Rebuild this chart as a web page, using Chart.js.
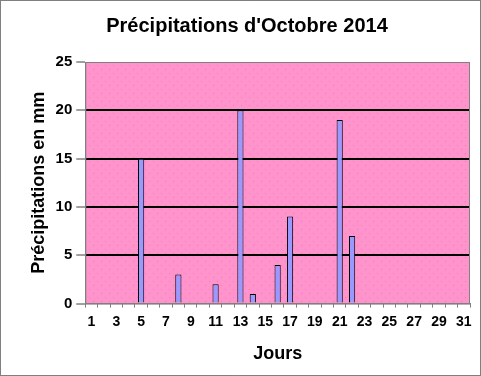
<!DOCTYPE html>
<html>
<head>
<meta charset="utf-8">
<script src="https://cdn.jsdelivr.net/npm/chart.js@4/dist/chart.umd.min.js"></script>
<style>
  html, body { margin: 0; padding: 0; background: #fff; }
  #wrap { width: 481px; height: 376px; }
</style>
</head>
<body>
<div id="wrap"><canvas id="myChart" width="481" height="376"></canvas></div>
<script>
// jours du mois et pluie en mm
const jours = [];
for (let j = 1; j <= 31; j++) jours.push(String(j));
const pluie = [0, 0, 0, 0, 15, 0, 0, 3, 0, 0, 2, 0, 20, 1, 0, 4, 9, 0, 0, 0, 19, 7, 0, 0, 0, 0, 0, 0, 0, 0, 0];
const yTicks = [0, 5, 10, 15, 20, 25];

// fond rose pointillé
function makePattern(ctx) {
    const c = document.createElement('canvas');
    c.width = 8; c.height = 8;
    const p = c.getContext('2d');
    p.fillStyle = '#ff94cc';
    p.fillRect(0, 0, 8, 8);
    p.fillStyle = '#f47ab8';
    p.fillRect(1, 1, 1, 1);
    p.fillRect(5, 5, 1, 1);
    return ctx.createPattern(c, 'repeat');
}

const fondPlugin = {
    id: 'fond',
    beforeDraw(chart) {
        const { ctx, chartArea: a } = chart;
        ctx.save();
        ctx.fillStyle = makePattern(ctx);
        ctx.fillRect(a.left, a.top, a.right - a.left, a.bottom - a.top);
        ctx.restore();
    },
    afterDraw(chart) {
        const { ctx, chartArea: a } = chart;
        ctx.save();
        ctx.strokeStyle = '#808080';
        ctx.lineWidth = 1;
        ctx.strokeRect(a.left + 0.5, a.top + 0.5, a.right - a.left - 1, a.bottom - a.top);
        // cadre pointillé autour
        ctx.strokeStyle = '#000';
        ctx.setLineDash([1, 1]);
        ctx.strokeRect(0.5, 0.5, chart.width - 1, chart.height - 1);
        ctx.restore();
    }
};

let ctx = document.getElementById('myChart').getContext('2d');
let myChart = new Chart(ctx, {
    type: 'bar',
    data: {
        labels: jours,
        datasets: [{
            data: pluie,
            backgroundColor: '#9999ff',
            borderColor: '#000',
            borderWidth: 1,
            barPercentage: 0.5,
            categoryPercentage: 1
        }]
    },
    options: {
        responsive: false,
        animation: false,
        layout: { padding: { left: 24, right: 11, top: 8, bottom: 7 } },
        plugins: {
            legend: { display: false },
            tooltip: { enabled: false },
            title: {
                display: true,
                text: "Précipitations d'Octobre 2014",
                color: '#000',
                font: { family: 'Arial, Liberation Sans', size: 20, weight: 'bold' },
                padding: { top: 6, bottom: 24 }
            }
        },
        scales: {
            x: {
                grid: {
                    drawOnChartArea: false,
                    drawTicks: true,
                    tickLength: 4,
                    tickColor: '#808080',
                    offset: true
                },
                border: { color: '#808080' },
                ticks: {
                    autoSkip: false,
                    maxRotation: 0,
                    color: '#000',
                    padding: 6,
                    font: { family: 'Arial, Liberation Sans', size: 14, weight: 'bold' },
                    callback: function (v, i) { return i % 2 === 0 ? jours[i] : ''; }
                },
                title: {
                    display: true,
                    text: 'Jours',
                    color: '#000',
                    font: { family: 'Arial, Liberation Sans', size: 18, weight: 'bold' },
                    padding: { top: 7 }
                }
            },
            y: {
                min: 0,
                max: 25,
                afterBuildTicks: function (axis) { axis.ticks = yTicks.map(v => ({ value: v })); },
                grid: {
                    color: function (c) { return (c.tick.value === 0 || c.tick.value === 25) ? 'rgba(0,0,0,0)' : '#000'; },
                    lineWidth: 2,
                    tickLength: 9,
                    tickColor: '#404040',
                    tickWidth: 1
                },
                border: { color: '#808080' },
                ticks: {
                    color: '#000',
                    padding: 4,
                    font: { family: 'Arial, Liberation Sans', size: 15, weight: 'bold' }
                },
                title: {
                    display: true,
                    text: 'Précipitations en mm',
                    color: '#000',
                    font: { family: 'Arial, Liberation Sans', size: 18, weight: 'bold' },
                    padding: { bottom: 2 }
                }
            }
        }
    },
    plugins: [fondPlugin]
});
</script>
</body>
</html>
